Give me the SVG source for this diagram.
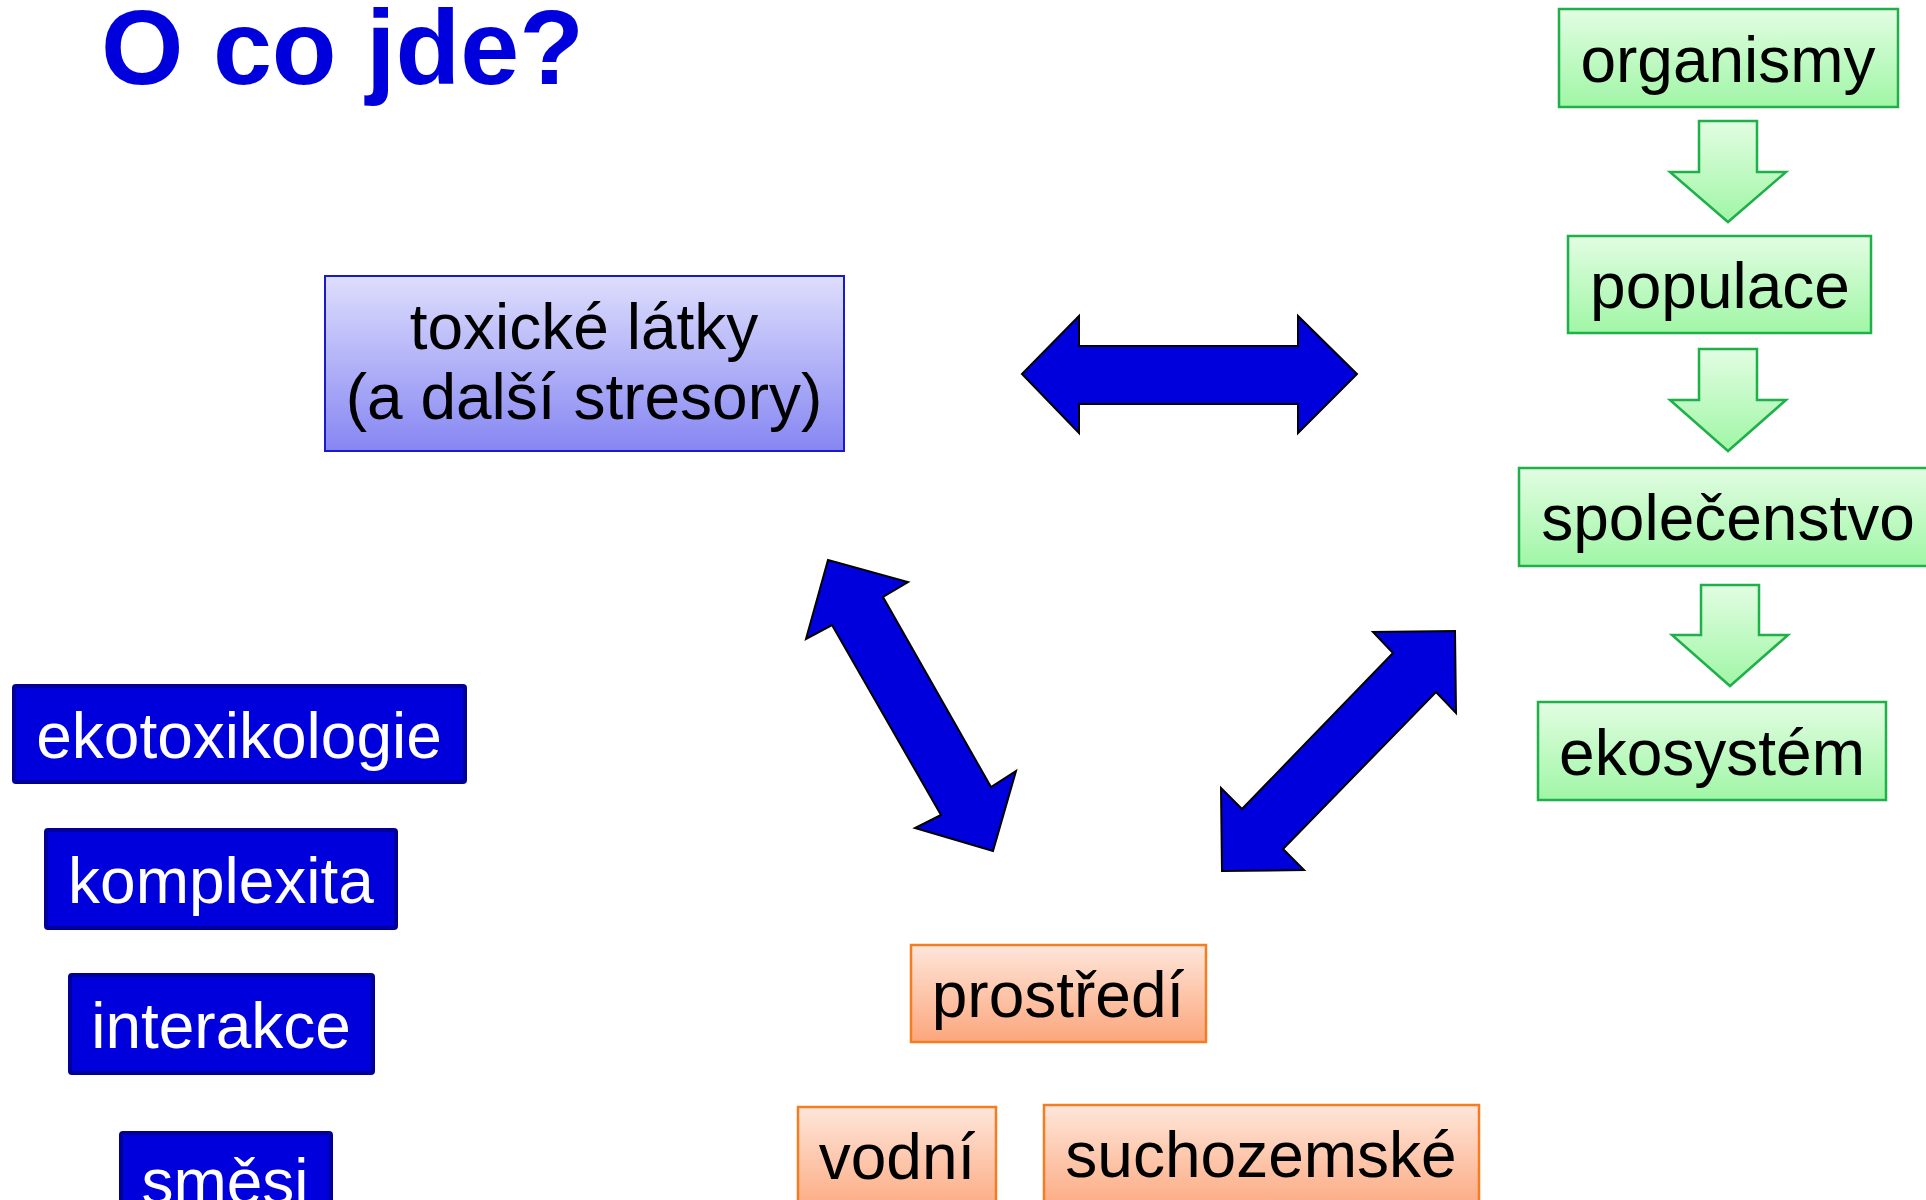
<svg xmlns="http://www.w3.org/2000/svg" width="1926" height="1200" viewBox="0 0 1926 1200">
<defs>
<linearGradient id="gGreen" x1="0" y1="0" x2="0" y2="1"><stop offset="0" stop-color="#e2fde2"/><stop offset="1" stop-color="#a0f6a6"/></linearGradient>
<linearGradient id="gBlue" x1="0" y1="0" x2="0" y2="1"><stop offset="0" stop-color="#dedefd"/><stop offset="1" stop-color="#8686f3"/></linearGradient>
<linearGradient id="gOrange" x1="0" y1="0" x2="0" y2="1"><stop offset="0" stop-color="#fee6da"/><stop offset="1" stop-color="#fca67c"/></linearGradient>
<style>
text{font-family:"Liberation Sans",Arial,sans-serif;font-size:64px;text-anchor:middle}
.green{fill:url(#gGreen);stroke:#1fb04a;stroke-width:2.5}
.blue{fill:url(#gBlue);stroke:#1a1acc;stroke-width:2}
.orange{fill:url(#gOrange);stroke:#f57c20;stroke-width:2.5}
.dark{fill:#0000dd;stroke:#000099;stroke-width:4}
.dark-t{fill:#ffffff}
.big{fill:#0000dd;stroke:#000000;stroke-width:2;stroke-linejoin:miter}
</style>
</defs>
<rect width="1926" height="1200" fill="#ffffff"/>
<g id="title"><text x="101" y="84" style="font-size:106px;font-weight:bold;text-anchor:start;fill:#0000dd">O co jde?</text></g>

<g id="connectors">
<polygon class="big" points="1022,374 1079,316 1079,346 1298,346 1298,316 1357,374 1298,433 1298,404 1079,404 1079,433"/>
<polygon class="big" points="828,560 908,582 883,597 991,787 1016,771 993,851 915,828 941,815 832,625 806,639"/>
<polygon class="big" points="1455,631 1456,713 1436,692 1283,849 1304,870 1222,871 1221,788 1242,809 1393,653 1373,632"/>
<polygon class="green" points="1699,121 1757,121 1757,172 1786,172 1728,222 1670,172 1699,172"/>
<polygon class="green" points="1699,349 1757,349 1757,400 1786,400 1728,451 1670,400 1699,400"/>
<polygon class="green" points="1701,585 1759,585 1759,635 1788,635 1730,686 1672,635 1701,635"/>
</g>

<g id="toxicke"><rect class="blue" x="325" y="276" width="519" height="175"/>
<text x="584" y="349">toxické látky</text><text x="584" y="419">(a další stresory)</text></g>

<g id="organismy"><rect class="green" x="1559" y="9" width="339" height="98"/><text x="1728" y="82">organismy</text></g>
<g id="populace"><rect class="green" x="1568" y="236" width="303" height="97"/><text x="1720" y="308">populace</text></g>
<g id="spolecenstvo"><rect class="green" x="1519" y="468" width="420" height="98"/><text x="1728" y="540">společenstvo</text></g>
<g id="ekosystem"><rect class="green" x="1538" y="702" width="348" height="98"/><text x="1712" y="775">ekosystém</text></g>

<g id="ekotoxikologie"><rect class="dark" x="14" y="686" width="451" height="96" rx="2"/><text class="dark-t" x="239" y="758">ekotoxikologie</text></g>
<g id="komplexita"><rect class="dark" x="46" y="830" width="350" height="98" rx="2"/><text class="dark-t" x="221" y="903">komplexita</text></g>
<g id="interakce"><rect class="dark" x="70" y="975" width="303" height="98" rx="2"/><text class="dark-t" x="221" y="1048">interakce</text></g>
<g id="smesi"><rect class="dark" x="121" y="1133" width="210" height="100" rx="2"/><text class="dark-t" x="225" y="1204">směsi</text></g>

<g id="prostredi"><rect class="orange" x="911" y="945" width="295" height="97"/><text x="1058" y="1017">prostředí</text></g>
<g id="vodni"><rect class="orange" x="798" y="1107" width="198" height="110"/><text x="897" y="1179">vodní</text></g>
<g id="suchozemske"><rect class="orange" x="1044" y="1105" width="435" height="110"/><text x="1261" y="1177">suchozemské</text></g>
</svg>
